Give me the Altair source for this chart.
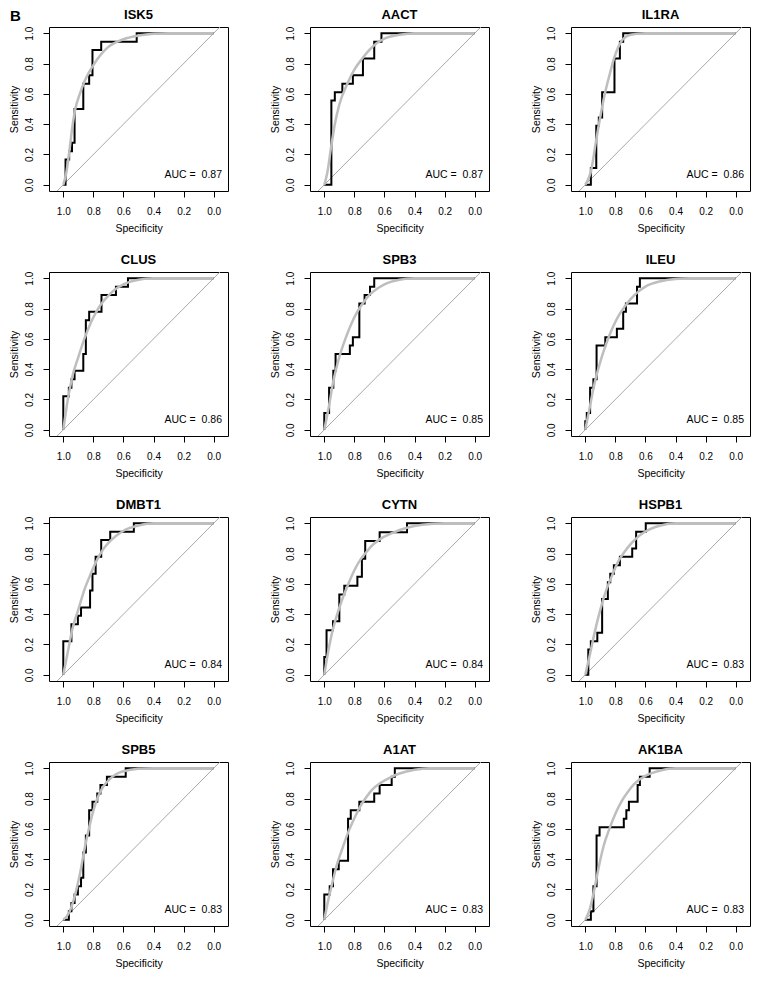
import altair as alt
import pandas as pd

FONT = "Liberation Sans"

markers = ["ISK5", "AACT", "IL1RA", "CLUS", "SPB3", "ILEU",
           "DMBT1", "CYTN", "HSPB1", "SPB5", "A1AT", "AK1BA"]
auc = [0.87, 0.87, 0.86, 0.86, 0.85, 0.85, 0.84, 0.84, 0.83, 0.83, 0.83, 0.83]

# ---- empirical ROC step corners (specificity, sensitivity) ----
emp_spec = {
    "ISK5":  [1.0, 0.985, 0.961, 0.942, 0.925, 0.867, 0.828, 0.806, 0.748, 0.512, 0.0],
    "AACT":  [1.0, 0.953, 0.93, 0.88, 0.81, 0.743, 0.668, 0.62, 0.0],
    "IL1RA": [1.0, 0.963, 0.927, 0.91, 0.888, 0.806, 0.77, 0.748, 0.0],
    "CLUS":  [1.0, 1.0, 0.963, 0.946, 0.925, 0.867, 0.85, 0.828, 0.746, 0.65, 0.57, 0.0],
    "SPB3":  [1.0, 1.0, 0.968, 0.94, 0.925, 0.83, 0.81, 0.767, 0.732, 0.696, 0.668, 0.0],
    "ILEU":  [1.0, 1.0, 0.99, 0.968, 0.946, 0.925, 0.867, 0.79, 0.748, 0.73, 0.656, 0.637, 0.0],
    "DMBT1": [1.0, 1.0, 0.946, 0.903, 0.882, 0.822, 0.806, 0.785, 0.748, 0.688, 0.531, 0.0],
    "CYTN":  [1.0, 1.0, 0.985, 0.942, 0.9, 0.867, 0.78, 0.75, 0.728, 0.632, 0.45, 0.0],
    "HSPB1": [1.0, 0.98, 0.963, 0.92, 0.888, 0.85, 0.834, 0.81, 0.77, 0.688, 0.662, 0.598, 0.0],
    "SPB5":  [1.0, 0.963, 0.946, 0.925, 0.903, 0.882, 0.867, 0.85, 0.828, 0.806, 0.774, 0.753, 0.71, 0.585, 0.0],
    "A1AT":  [1.0, 1.0, 0.964, 0.942, 0.904, 0.842, 0.824, 0.767, 0.668, 0.632, 0.552, 0.531, 0.0],
    "AK1BA": [1.0, 0.963, 0.946, 0.925, 0.905, 0.744, 0.727, 0.71, 0.652, 0.637, 0.572, 0.0],
}
emp_sens = {
    "ISK5":  [0.0, 0.167, 0.222, 0.278, 0.5, 0.667, 0.722, 0.889, 0.944, 1.0, 1.0],
    "AACT":  [0.0, 0.556, 0.611, 0.667, 0.722, 0.833, 0.944, 1.0, 1.0],
    "IL1RA": [0.0, 0.111, 0.389, 0.444, 0.611, 0.833, 0.944, 1.0, 1.0],
    "CLUS":  [0.0, 0.222, 0.278, 0.333, 0.389, 0.5, 0.722, 0.778, 0.889, 0.944, 1.0, 1.0],
    "SPB3":  [0.0, 0.111, 0.278, 0.389, 0.5, 0.556, 0.611, 0.833, 0.889, 0.944, 1.0, 1.0],
    "ILEU":  [0.0, 0.056, 0.111, 0.278, 0.333, 0.556, 0.611, 0.667, 0.778, 0.833, 0.944, 1.0, 1.0],
    "DMBT1": [0.0, 0.222, 0.333, 0.389, 0.444, 0.556, 0.667, 0.778, 0.889, 0.944, 1.0, 1.0],
    "CYTN":  [0.0, 0.118, 0.294, 0.353, 0.529, 0.588, 0.647, 0.765, 0.882, 0.941, 1.0, 1.0],
    "HSPB1": [0.0, 0.167, 0.222, 0.278, 0.5, 0.611, 0.667, 0.722, 0.778, 0.833, 0.944, 1.0, 1.0],
    "SPB5":  [0.0, 0.056, 0.111, 0.167, 0.222, 0.278, 0.444, 0.556, 0.722, 0.778, 0.833, 0.889, 0.944, 1.0, 1.0],
    "A1AT":  [0.0, 0.167, 0.222, 0.333, 0.389, 0.667, 0.722, 0.778, 0.833, 0.889, 0.944, 1.0, 1.0],
    "AK1BA": [0.0, 0.056, 0.222, 0.556, 0.611, 0.667, 0.722, 0.778, 0.889, 0.944, 1.0, 1.0],
}

# ---- smoothed (binormal) ROC curves ----
smo_spec = {
    "ISK5":  [1.0, 0.98, 0.96, 0.94, 0.92, 0.89, 0.86, 0.83, 0.8, 0.75, 0.7, 0.6, 0.5, 0.4, 0.3, 0.0],
    "AACT":  [1.0, 0.98, 0.953, 0.93, 0.9, 0.85, 0.8, 0.75, 0.7, 0.65, 0.6, 0.5, 0.4, 0.0],
    "IL1RA": [1.0, 0.96, 0.93, 0.9, 0.87, 0.84, 0.81, 0.78, 0.75, 0.7, 0.6, 0.0],
    "CLUS":  [1.0, 0.97, 0.94, 0.9, 0.86, 0.82, 0.78, 0.74, 0.7, 0.65, 0.6, 0.5, 0.4, 0.0],
    "SPB3":  [1.0, 0.97, 0.94, 0.9, 0.86, 0.82, 0.78, 0.74, 0.7, 0.65, 0.6, 0.5, 0.4, 0.0],
    "ILEU":  [1.0, 0.97, 0.94, 0.9, 0.86, 0.82, 0.78, 0.74, 0.7, 0.65, 0.6, 0.5, 0.4, 0.3, 0.0],
    "DMBT1": [1.0, 0.97, 0.94, 0.9, 0.86, 0.82, 0.78, 0.74, 0.7, 0.65, 0.6, 0.5, 0.4, 0.0],
    "CYTN":  [1.0, 0.98, 0.95, 0.92, 0.88, 0.84, 0.8, 0.76, 0.72, 0.68, 0.63, 0.55, 0.45, 0.35, 0.2, 0.0],
    "HSPB1": [1.0, 0.97, 0.94, 0.9, 0.86, 0.82, 0.78, 0.74, 0.7, 0.65, 0.6, 0.5, 0.4, 0.0],
    "SPB5":  [1.0, 0.96, 0.92, 0.89, 0.86, 0.83, 0.8, 0.77, 0.74, 0.7, 0.65, 0.6, 0.5, 0.4, 0.0],
    "A1AT":  [1.0, 0.98, 0.95, 0.92, 0.88, 0.84, 0.8, 0.76, 0.72, 0.68, 0.63, 0.56, 0.5, 0.4, 0.3, 0.0],
    "AK1BA": [1.0, 0.97, 0.94, 0.91, 0.88, 0.84, 0.8, 0.76, 0.72, 0.68, 0.64, 0.6, 0.5, 0.4, 0.0],
}
smo_sens = {
    "ISK5":  [0.0, 0.08, 0.22, 0.38, 0.5, 0.6, 0.68, 0.74, 0.79, 0.86, 0.91, 0.96, 0.985, 0.997, 1.0, 1.0],
    "AACT":  [0.0, 0.08, 0.26, 0.4, 0.53, 0.66, 0.76, 0.83, 0.89, 0.935, 0.965, 0.99, 1.0, 1.0],
    "IL1RA": [0.0, 0.1, 0.28, 0.45, 0.6, 0.72, 0.83, 0.91, 0.96, 0.99, 1.0, 1.0],
    "CLUS":  [0.0, 0.2, 0.35, 0.48, 0.6, 0.7, 0.78, 0.84, 0.885, 0.93, 0.96, 0.99, 1.0, 1.0],
    "SPB3":  [0.0, 0.15, 0.32, 0.48, 0.6, 0.7, 0.78, 0.84, 0.89, 0.93, 0.96, 0.99, 1.0, 1.0],
    "ILEU":  [0.0, 0.15, 0.3, 0.45, 0.57, 0.67, 0.75, 0.81, 0.86, 0.91, 0.945, 0.98, 0.995, 1.0, 1.0],
    "DMBT1": [0.0, 0.15, 0.3, 0.43, 0.56, 0.66, 0.75, 0.82, 0.87, 0.915, 0.95, 0.985, 1.0, 1.0],
    "CYTN":  [0.0, 0.12, 0.27, 0.38, 0.5, 0.6, 0.69, 0.76, 0.81, 0.855, 0.895, 0.935, 0.97, 0.99, 1.0, 1.0],
    "HSPB1": [0.0, 0.13, 0.27, 0.43, 0.56, 0.66, 0.75, 0.81, 0.86, 0.91, 0.945, 0.985, 1.0, 1.0],
    "SPB5":  [0.0, 0.05, 0.17, 0.3, 0.46, 0.6, 0.72, 0.81, 0.87, 0.92, 0.96, 0.98, 0.997, 1.0, 1.0],
    "A1AT":  [0.0, 0.1, 0.23, 0.35, 0.47, 0.58, 0.67, 0.75, 0.81, 0.86, 0.9, 0.94, 0.965, 0.99, 1.0, 1.0],
    "AK1BA": [0.0, 0.07, 0.2, 0.35, 0.48, 0.6, 0.7, 0.78, 0.84, 0.89, 0.925, 0.95, 0.985, 1.0, 1.0],
}

# chance diagonal (sensitivity = 1 - specificity), clipped to the frame
diag_spec = [1.1, -0.1]
diag_sens = [-0.1, 1.1]

tick_values = [0.0, 0.2, 0.4, 0.6, 0.8, 1.0]
panel_label = "B"

W, H = 179, 164

x_scale = alt.Scale(domain=[-0.095, 1.095], reverse=True, nice=False, zero=False)
y_scale = alt.Scale(domain=[-0.041, 1.041], nice=False, zero=False)

x_axis = alt.Axis(values=tick_values, format=".1f", title="Specificity", grid=False,
                  domain=False, tickSize=6, tickColor="black", labelColor="black",
                  labelFont=FONT, labelFontSize=10, labelBaseline="alphabetic",
                  labelPadding=17.5, labelFlush=False,
                  titleFont=FONT, titleFontSize=10.5, titleFontWeight="normal",
                  titleColor="black", titleBaseline="alphabetic", titleAlign="center",
                  titleX=W / 2, titleY=40.5)
y_axis = alt.Axis(values=tick_values, format=".1f", title="Sensitivity", grid=False,
                  domain=False, tickSize=6, tickColor="black", labelColor="black",
                  labelFont=FONT, labelFontSize=10, labelAngle=270, labelAlign="center",
                  labelBaseline="alphabetic", labelPadding=10.3, labelFlush=False,
                  titleFont=FONT, titleFontSize=10.5, titleFontWeight="normal",
                  titleColor="black", titleAngle=270, titleBaseline="alphabetic",
                  titleAlign="center", titleX=-32, titleY=H / 2)


def panel(k):
    name = markers[k]
    emp = pd.DataFrame({"spec": emp_spec[name], "sens": emp_sens[name],
                        "i": list(range(len(emp_spec[name])))})
    smo = pd.DataFrame({"spec": smo_spec[name], "sens": smo_sens[name],
                        "i": list(range(len(smo_spec[name])))})
    dia = pd.DataFrame({"spec": diag_spec, "sens": diag_sens, "i": [0, 1]})
    x = alt.X("spec:Q", scale=x_scale, axis=x_axis)
    y = alt.Y("sens:Q", scale=y_scale, axis=y_axis)
    diag_line = alt.Chart(dia).mark_line(color="#a9a9a9", strokeWidth=1, clip=True).encode(
        x=x, y=y, order="i:Q")
    emp_line = alt.Chart(emp).mark_line(color="black", strokeWidth=2, interpolate="step-after",
                                        clip=True).encode(x=x, y=y, order="i:Q")
    smo_line = alt.Chart(smo).mark_line(color="#bebebe", strokeWidth=2.5, interpolate="monotone",
                                        clip=True).encode(x=x, y=y, order="i:Q")
    txt = alt.Chart(pd.DataFrame({"t": [f"AUC =\u00a0 {auc[k]:.2f}"]})).mark_text(
        align="right", baseline="alphabetic", fontSize=10.5, font=FONT, color="black").encode(
        x=alt.value(W - 6), y=alt.value(H - 13), text="t:N")
    ttl = alt.Chart(pd.DataFrame({"t": [name]})).mark_text(
        align="center", baseline="alphabetic", fontSize=13, fontWeight="bold",
        font=FONT, color="black").encode(x=alt.value(W / 2), y=alt.value(-8.5), text="t:N")
    layers = [diag_line, emp_line, smo_line, txt, ttl]
    if k == 0:
        lab = alt.Chart(pd.DataFrame({"t": [panel_label]})).mark_text(
            align="left", baseline="alphabetic", fontSize=15, fontWeight="bold",
            font=FONT, color="black").encode(x=alt.value(-39), y=alt.value(-6.5), text="t:N")
        layers.append(lab)
    return alt.layer(*layers).properties(width=W, height=H)


panels = [panel(k) for k in range(len(markers))]

chart = alt.concat(*panels, columns=3, spacing={"row": 81, "column": 82}, bounds="flush").properties(
    padding={"left": 0, "top": 0, "right": 0, "bottom": 0}
).configure_view(stroke="black", strokeWidth=1)

chart.save("out.html", embed_options={"renderer": "svg", "actions": False})
